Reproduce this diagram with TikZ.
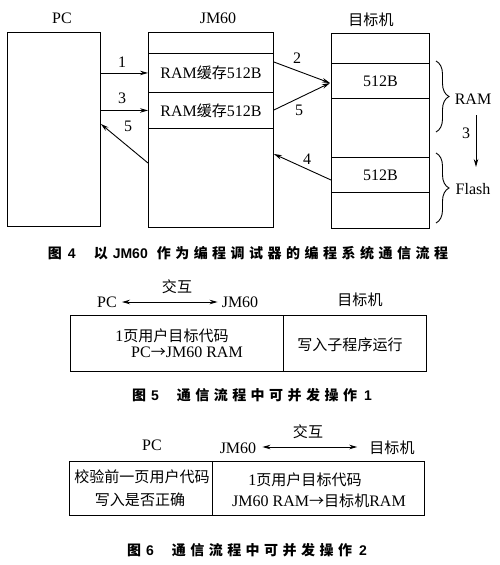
\documentclass[tikz,border=0pt]{standalone}
\usepackage{fontspec}
\setmainfont{Liberation Serif}
\newfontfamily\cj{Noto Sans CJK SC}[Scale=0.94]
\newfontfamily\capfont{Noto Sans CJK SC}[LetterSpace=32]
\newfontfamily\capl{Liberation Sans}
\newcommand{\cl}[1]{{\capl\bfseries #1}}
\usetikzlibrary{arrows.meta,decorations.pathreplacing,calc}
\begin{document}
\begin{tikzpicture}[x=1pt,y=-1pt, font=\fontsize{16}{14}\selectfont,
 box/.style={draw,line width=0.9pt,inner sep=0pt,anchor=north west},
 arr/.style={-{Stealth[length=8pt,width=4.5pt]},line width=0.9pt},
 arrr/.style={{Stealth[length=8pt,width=4.5pt]}-{Stealth[length=8pt,width=4.5pt]},line width=0.9pt},
 lbl/.style={inner sep=0pt},
 brc/.style={decorate,decoration={brace,amplitude=13pt},line width=0.9pt},
 capt/.style={font=\capfont\bfseries\fontsize{14}{16}\selectfont,inner sep=0pt}]
\useasboundingbox (0,0) rectangle (500,565);

% ---- Figure 4 ----
\node[box,minimum width=93pt,minimum height=194pt] (pc) at (7,32) {};
\node[box,minimum width=125pt,minimum height=195pt] (jm) at (148,32) {};
\node[box,minimum width=125pt,minimum height=39pt] (r1) at (148,53) {RAM{\cj 缓存}512B};
\node[box,minimum width=125pt,minimum height=36pt] (r2) at (148,92) {RAM{\cj 缓存}512B};
\node[box,minimum width=98pt,minimum height=195pt] (tg) at (331,33) {};
\node[box,minimum width=98pt,minimum height=35pt] (t1) at (331,63) {512B};
\node[box,minimum width=98pt,minimum height=35pt] (t2) at (331,157) {512B};

\node[lbl] (pcl) at (62,18) {PC};
\node[lbl] (jml) at (218,18) {JM60};
\node[lbl] (tgl) at (371,20) {\cj 目标机};

\draw[arr] (pc.east |- r1.west) -- (r1.west);
\node[lbl] (n1) at (122,62) {1};
\draw[arr] (pc.east |- r2.west) -- (r2.west);
\node[lbl] (n3) at (122,98) {3};
\draw[arr] ($(jm.north west)+(0,131)$) -- ($(pc.north east)+(0,92)$);
\node[lbl] (n5) at (128,126) {5};

\coordinate (tin) at ($(t1.north west)+(-1,20)$);
\draw[arr] ($(jm.north east)+(0,30)$) -- (tin);
\node[lbl] (n2) at (297,58) {2};
\draw[arr] ($(jm.north east)+(0,78)$) -- (tin);
\node[lbl] (n5b) at (299,110) {5};
\draw[arr] ($(tg.north west)+(0,147)$) -- ($(jm.north east)+(0,122)$);
\node[lbl] (n4) at (307,159) {4};

\draw[brc] (436,61) -- (436,132);
\node[lbl] (ram) at (473,99) {RAM};
\coordinate (d1) at (476,115);
\coordinate (d2) at (476,167);
\draw[arr] (d1) -- (d2);
\node[lbl] (n3b) at (466,133) {3};
\draw[brc] (436,153) -- (436,223);
\node[lbl] (fl) at (473,189) {Flash};

\node[capt] (c4) at (248,253) {图\hspace{6pt}\cl{4}\hspace{18pt}以\hspace{5pt}\cl{JM60}\hspace{9pt}作为编程调试器的编程系统通信流程};

% ---- Figure 5 ----
\node[lbl] (pc5) at (107,302) {PC};
\node[lbl] (jm5) at (240,302) {JM60};
\node[lbl] (ji5) at (177,287) {\cj 交互};
\node[lbl] (tg5) at (360,300) {\cj 目标机};
\draw[arrr] ($(pc5.east)+(5,0)$) -- ($(jm5.west)+(-4,0)$);
\node[box,minimum width=213pt,minimum height=56pt] (b5l) at (70,315) {};
\node[box,minimum width=143pt,minimum height=56pt] (b5r) at (283,315) {};
\node[lbl] (t5a) at (172,336) {1{\cj 页用户目标代码}};
\node[lbl] (t5b) at (187,352) {PC{\cj →}JM60 RAM};
\node[lbl] (t5c) at (350,345) {\cj 写入子程序运行};
\node[capt] (c5) at (252,395) {图\hspace{5pt}\cl{5}\hspace{18pt}通信流程中可并发操作\hspace{7pt}\cl{1}};

% ---- Figure 6 ----
\node[lbl] (pc6) at (152,445) {PC};
\node[lbl] (jm6) at (238,448) {JM60};
\node[lbl] (tg6) at (392,448) {\cj 目标机};
\node[lbl] (ji6) at (308,432) {\cj 交互};
\draw[arrr] ($(jm6.east)+(6,-1)$) -- ($(tg6.west)+(-12,-1)$);
\node[box,minimum width=143pt,minimum height=54pt] (b6l) at (69,461) {};
\node[box,minimum width=212pt,minimum height=54pt] (b6r) at (212,461) {};
\node[lbl] (t6a) at (142,477) {\cj 校验前一页用户代码};
\node[lbl] (t6b) at (140,500) {\cj 写入是否正确};
\node[lbl] (t6c) at (305,480) {1{\cj 页用户目标代码}};
\node[lbl] (t6d) at (319,501) {JM60 RAM{\cj →目标机}RAM};
\node[capt] (c6) at (247,550) {图\hspace{5pt}\cl{6}\hspace{18pt}通信流程中可并发操作\hspace{7pt}\cl{2}};
\end{tikzpicture}
\end{document}
